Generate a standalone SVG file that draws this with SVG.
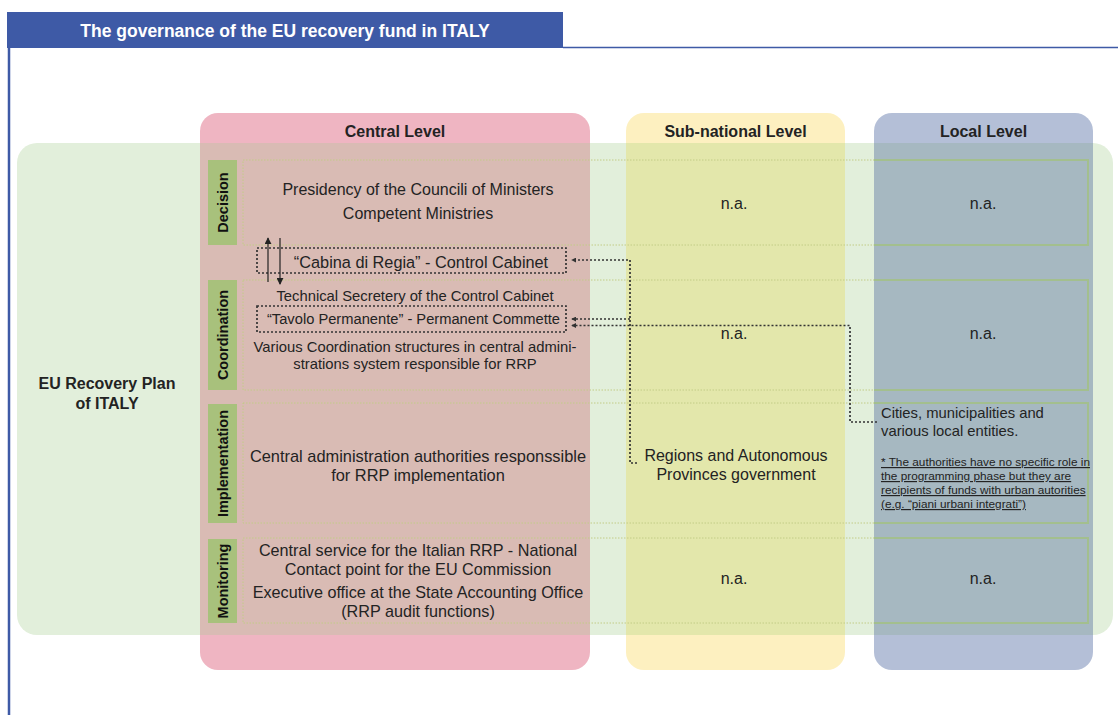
<svg xmlns="http://www.w3.org/2000/svg" width="1118" height="715" viewBox="0 0 1118 715">
<style>
.t{font-family:"Liberation Sans",Arial,sans-serif;fill:#232323;}
.b{font-weight:bold;}
.c{text-anchor:middle;}
.tab{fill:#a8c17c;}
.tabt{font-family:"Liberation Sans",Arial,sans-serif;font-weight:bold;font-size:14.5px;fill:#111;text-anchor:middle;}
.row{fill:none;stroke:#c2cc86;stroke-width:1;stroke-dasharray:1.5 1.5;}
.rowl{fill:none;stroke:#a3bf8e;stroke-width:2;}
.dot{fill:none;stroke:#333;stroke-width:1.7;stroke-dasharray:2 2;}
.sol{fill:none;stroke:#222;stroke-width:1.2;}
.u{text-decoration:underline;}
</style>
<defs>
<marker id="ah" viewBox="0 0 6 6" refX="5" refY="3" markerWidth="5" markerHeight="5" orient="auto" markerUnits="userSpaceOnUse">
<path d="M0,0 L6,3 L0,6 z" fill="#333"/>
</marker>
<marker id="sh" viewBox="0 0 8 8" refX="7" refY="4" markerWidth="7" markerHeight="7" orient="auto" markerUnits="userSpaceOnUse">
<path d="M0,0 L8,4 L0,8 z" fill="#222"/>
</marker>
</defs>
<rect width="1118" height="715" fill="#ffffff"/>

<g id="frame">
<rect x="7" y="12" width="556" height="36" fill="#3e5aa6"/>
<line x1="563" y1="47.5" x2="1118" y2="47.5" stroke="#3e5aa6" stroke-width="1.5"/>
<line x1="9" y1="48" x2="9" y2="715" stroke="#3e5aa6" stroke-width="2.5"/>
<text x="285" y="37" class="t b c" style="fill:#ffffff;font-size:17.5px">The governance of the EU recovery fund in ITALY</text>
</g>

<g id="band">
<rect x="17" y="143" width="1096" height="492" rx="20" fill="#e2efdb"/>
</g>

<g id="col-central">
<rect x="200" y="113" width="390" height="557" rx="18" fill="#efb5c2"/>
<rect x="200" y="143" width="390" height="492" fill="#d9bbb4"/>
<text x="395" y="137" class="t b c" style="font-size:16px">Central Level</text>
</g>
<g id="col-subnational">
<rect x="626" y="113" width="219" height="557" rx="18" fill="#fdf0c0"/>
<rect x="626" y="143" width="219" height="492" fill="#e3e7ab"/>
<text x="735.5" y="137" class="t b c" style="font-size:16px">Sub-national Level</text>
</g>
<g id="col-local">
<rect x="874" y="113" width="219" height="557" rx="18" fill="#b4bfd7"/>
<rect x="874" y="143" width="219" height="492" fill="#a6b8c1"/>
<text x="983.5" y="137" class="t b c" style="font-size:16px">Local Level</text>
</g>

<g id="plan-label">
<text x="107" y="389" class="t b c" style="font-size:16px">EU Recovery Plan</text>
<text x="107" y="409" class="t b c" style="font-size:16px">of ITALY</text>
</g>

<g id="rows">
<rect x="243" y="160" width="845" height="85" class="row"/>
<rect x="243" y="280" width="845" height="110" class="row"/>
<rect x="243" y="403" width="845" height="120" class="row"/>
<rect x="243" y="538" width="845" height="85" class="row"/>
<path d="M874,160 H1088 V245 H874" class="rowl"/>
<path d="M874,280 H1088 V390 H874" class="rowl"/>
<path d="M874,403 H1088 V523 H874" class="rowl"/>
<path d="M874,538 H1088 V623 H874" class="rowl"/>
</g>

<g id="tab-decision">
<rect x="208" y="160" width="29" height="85" class="tab"/>
<text transform="translate(227.5,202.5) rotate(-90)" class="tabt">Decision</text>
</g>
<g id="tab-coordination">
<rect x="208" y="280" width="29" height="110" class="tab"/>
<text transform="translate(227.5,335) rotate(-90)" class="tabt">Coordination</text>
</g>
<g id="tab-implementation">
<rect x="208" y="404" width="29" height="119" class="tab"/>
<text transform="translate(227.5,463.5) rotate(-90)" class="tabt">Implementation</text>
</g>
<g id="tab-monitoring">
<rect x="208" y="539" width="29" height="84" class="tab"/>
<text transform="translate(227.5,581) rotate(-90)" class="tabt">Monitoring</text>
</g>

<g id="central-decision">
<text x="418" y="195" class="t c" style="font-size:16px">Presidency of the Councili of Ministers</text>
<text x="418" y="219" class="t c" style="font-size:16px">Competent Ministries</text>
</g>
<g id="cabina">
<rect x="257" y="248" width="309" height="25" class="dot"/>
<text x="421" y="267.5" class="t c" style="font-size:16.3px">“Cabina di Regia” - Control Cabinet</text>
</g>
<g id="central-coordination">
<text x="415" y="301" class="t c" style="font-size:14.8px">Technical Secretery of the Control Cabinet</text>
<text x="415" y="352" class="t c" style="font-size:14.8px">Various Coordination structures in central admini-</text>
<text x="415" y="369" class="t c" style="font-size:14.8px">strations system responsible for RRP</text>
</g>
<g id="tavolo">
<rect x="257" y="306" width="309" height="26" class="dot"/>
<text x="413.5" y="324" class="t c" style="font-size:14.7px">“Tavolo Permanente” - Permanent Commette</text>
</g>
<g id="central-implementation">
<text x="418" y="462" class="t c" style="font-size:16.4px">Central administration authorities responssible</text>
<text x="418" y="481" class="t c" style="font-size:16.4px">for RRP implementation</text>
</g>
<g id="central-monitoring">
<text x="418" y="556" class="t c" style="font-size:16.2px">Central service for the Italian RRP - National</text>
<text x="418" y="575" class="t c" style="font-size:16.2px">Contact point for the EU Commission</text>
<text x="418" y="598" class="t c" style="font-size:16.2px">Executive office at the State Accounting Office</text>
<text x="418" y="617" class="t c" style="font-size:16.2px">(RRP audit functions)</text>
</g>

<g id="sub-decision"><text x="734" y="209" class="t c" style="font-size:16px">n.a.</text></g>
<g id="sub-coordination"><text x="734" y="339" class="t c" style="font-size:16px">n.a.</text></g>
<g id="sub-implementation">
<text x="736" y="461" class="t c" style="font-size:16px">Regions and Autonomous</text>
<text x="736" y="480" class="t c" style="font-size:16px">Provinces government</text>
</g>
<g id="sub-monitoring"><text x="734" y="584" class="t c" style="font-size:16px">n.a.</text></g>

<g id="local-decision"><text x="983" y="209" class="t c" style="font-size:16px">n.a.</text></g>
<g id="local-coordination"><text x="983" y="339" class="t c" style="font-size:16px">n.a.</text></g>
<g id="local-implementation">
<text x="881" y="418" class="t" style="font-size:14.8px">Cities, municipalities and</text>
<text x="881" y="436" class="t" style="font-size:14.8px">various local entities.</text>
<text x="881" y="466" class="t u" style="font-size:11.8px">* The authorities have no specific role in</text>
<text x="881" y="480" class="t u" style="font-size:11.8px">the programming phase but they are</text>
<text x="881" y="494" class="t u" style="font-size:11.8px">recipients of funds with urban autorities</text>
<text x="881" y="508" class="t u" style="font-size:11.8px">(e.g. “piani urbani integrati”)</text>
</g>
<g id="local-monitoring"><text x="983" y="584" class="t c" style="font-size:16px">n.a.</text></g>

<g id="connectors">
<path d="M637,463 H630 V260 H572" class="dot" marker-end="url(#ah)"/>
<path d="M630,319 H572" class="dot" marker-end="url(#ah)"/>
<path d="M877,422 H850 V325.5 H572" class="dot" marker-end="url(#ah)"/>
<path d="M268,282 V238" class="sol" marker-end="url(#sh)"/>
<path d="M280,238 V284" class="sol" marker-end="url(#sh)"/>
</g>
</svg>
